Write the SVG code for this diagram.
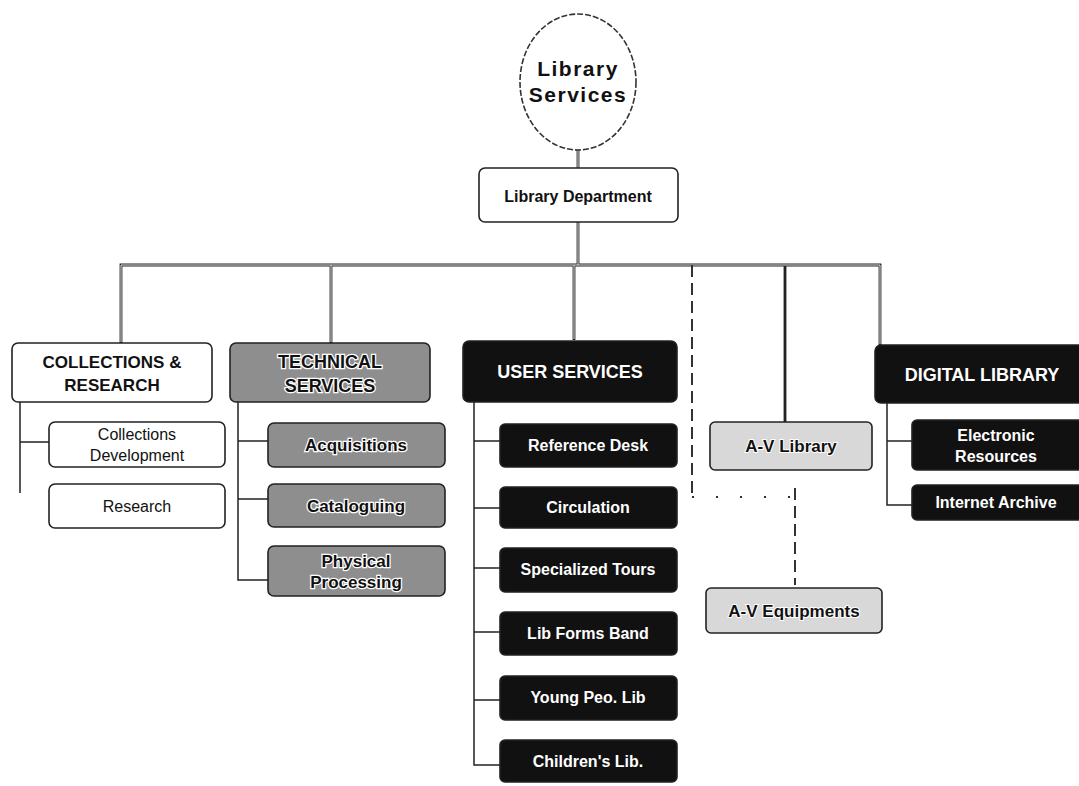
<svg xmlns="http://www.w3.org/2000/svg" width="1079" height="786" viewBox="0 0 1079 786">
<style>
  .bg{fill:#fff}
  .wbox{fill:#fff;stroke:#222;stroke-width:1.6}
  .gbox{fill:#8e8e8e;stroke:#222;stroke-width:1.6}
  .kbox{fill:#111;stroke:#222;stroke-width:1.6}
  .lbox{fill:#d8d8d8;stroke:#222;stroke-width:1.6}
  .ell{fill:#fff;stroke:#333;stroke-width:1.6;stroke-dasharray:6 2}
  text{font-family:"Liberation Sans",Arial,sans-serif;text-anchor:middle}
  .t-dark{fill:#111;font-size:16px}
  .t-head{fill:#111;font-size:17px;font-weight:bold}
  .t-halo{fill:#111;font-size:17px;font-weight:bold;stroke:#fff;stroke-width:2.5;paint-order:stroke}
  .t-haloh{fill:#111;font-size:18px;font-weight:bold;stroke:#fff;stroke-width:2.5;paint-order:stroke}
  .t-white{fill:#fff;font-size:16px;font-weight:bold}
  .t-whiteh{fill:#fff;font-size:18px;font-weight:bold}
  .t-light{fill:#111;font-size:17px;font-weight:bold;stroke:#fff;stroke-width:2;paint-order:stroke}
  .c-out{fill:none;stroke:#222;stroke-width:2.8}
  .c-in{fill:none;stroke:#fff;stroke-width:0.9}
  .c-s{fill:none;stroke:#222;stroke-width:1.5}
  .c-d{fill:none;stroke:#333;stroke-width:2;stroke-dasharray:12 6}
  .c-dot{fill:none;stroke:#333;stroke-width:2;stroke-dasharray:2 22}
</style>
<rect class="bg" x="0" y="0" width="1079" height="786"/>
<g id="connectors">
  <path class="c-out" d="M578,150 V168 M578,222 V265 M121,343 V265 H880 V345 M331,265 V343 M574,265 V340 M785,265 V422"/>
  <path class="c-in" d="M578,150 V168 M578,222 V265 M121,342 V265 H880 V344 M331,265 V342 M574,265 V339"/>
  <path class="c-d" d="M692,265 V497"/>
  <path class="c-dot" d="M692,497 H795"/>
  <path class="c-d" d="M795,488 V585"/>
  <path class="c-s" d="M20,402 V493 M20,442 H49"/>
  <path class="c-s" d="M238,402 V580 H268 M238,441 H268 M238,499 H268"/>
  <path class="c-s" d="M474,402 V765 H500 M474,441 H500 M474,508 H500 M474,568 H500 M474,632 H500 M474,700 H500"/>
  <path class="c-s" d="M887,403 V505 H912 M887,441 H912"/>
</g>
<g id="library-services">
  <ellipse class="ell" cx="578" cy="82" rx="58" ry="68"/>
  <text x="578" y="76" style="font-size:21px;font-weight:bold;letter-spacing:1.5px;fill:#111">Library</text>
  <text x="578" y="102" style="font-size:21px;font-weight:bold;letter-spacing:1.5px;fill:#111">Services</text>
</g>
<g id="library-department">
  <rect class="wbox" x="479" y="168" width="199" height="54" rx="6"/>
  <text class="t-dark" x="578" y="202" style="font-weight:bold;font-size:16px">Library Department</text>
</g>
<g id="collections-research">
  <rect class="wbox" x="12" y="343" width="200" height="59" rx="6"/>
  <text class="t-head" x="112" y="368">COLLECTIONS &amp;</text>
  <text class="t-head" x="112" y="391">RESEARCH</text>
</g>
<g id="collections-development">
  <rect class="wbox" x="49" y="422" width="176" height="45" rx="6"/>
  <text class="t-dark" x="137" y="440">Collections</text>
  <text class="t-dark" x="137" y="461">Development</text>
</g>
<g id="research">
  <rect class="wbox" x="49" y="484" width="176" height="44" rx="6"/>
  <text class="t-dark" x="137" y="512">Research</text>
</g>
<g id="technical-services">
  <rect class="gbox" x="230" y="343" width="200" height="59" rx="6"/>
  <text class="t-haloh" x="330" y="368">TECHNICAL</text>
  <text class="t-haloh" x="330" y="392">SERVICES</text>
</g>
<g id="acquisitions">
  <rect class="gbox" x="268" y="423" width="177" height="44" rx="6"/>
  <text class="t-halo" x="356" y="451">Acquisitions</text>
</g>
<g id="cataloguing">
  <rect class="gbox" x="268" y="484" width="177" height="43" rx="6"/>
  <text class="t-halo" x="356" y="512">Cataloguing</text>
</g>
<g id="physical-processing">
  <rect class="gbox" x="268" y="546" width="177" height="50" rx="6"/>
  <text class="t-halo" x="356" y="567">Physical</text>
  <text class="t-halo" x="356" y="588">Processing</text>
</g>
<g id="user-services">
  <rect class="kbox" x="463" y="341" width="214" height="61" rx="6"/>
  <text class="t-whiteh" x="570" y="378">USER SERVICES</text>
</g>
<g id="reference-desk">
  <rect class="kbox" x="500" y="424" width="177" height="43" rx="5"/>
  <text class="t-white" x="588" y="451">Reference Desk</text>
</g>
<g id="circulation">
  <rect class="kbox" x="500" y="487" width="177" height="41" rx="5"/>
  <text class="t-white" x="588" y="513">Circulation</text>
</g>
<g id="specialized-tours">
  <rect class="kbox" x="500" y="548" width="177" height="44" rx="5"/>
  <text class="t-white" x="588" y="575">Specialized Tours</text>
</g>
<g id="lib-forms-band">
  <rect class="kbox" x="500" y="612" width="177" height="43" rx="5"/>
  <text class="t-white" x="588" y="639">Lib Forms Band</text>
</g>
<g id="young-peo-lib">
  <rect class="kbox" x="500" y="676" width="177" height="44" rx="5"/>
  <text class="t-white" x="588" y="703">Young Peo. Lib</text>
</g>
<g id="childrens-lib">
  <rect class="kbox" x="500" y="740" width="177" height="42" rx="5"/>
  <text class="t-white" x="588" y="767">Children's Lib.</text>
</g>
<g id="av-library">
  <rect class="lbox" x="710" y="422" width="162" height="48" rx="5"/>
  <text class="t-light" x="791" y="452">A-V Library</text>
</g>
<g id="av-equipments">
  <rect class="lbox" x="706" y="588" width="176" height="45" rx="5"/>
  <text class="t-light" x="794" y="617">A-V Equipments</text>
</g>
<g id="digital-library">
  <rect class="kbox" x="875" y="345" width="215" height="58" rx="6"/>
  <text class="t-whiteh" x="982" y="381">DIGITAL LIBRARY</text>
</g>
<g id="electronic-resources">
  <rect class="kbox" x="912" y="420" width="175" height="50" rx="5"/>
  <text class="t-white" x="996" y="441">Electronic</text>
  <text class="t-white" x="996" y="462">Resources</text>
</g>
<g id="internet-archive">
  <rect class="kbox" x="912" y="485" width="175" height="35" rx="5"/>
  <text class="t-white" x="996" y="508">Internet Archive</text>
</g>
</svg>
